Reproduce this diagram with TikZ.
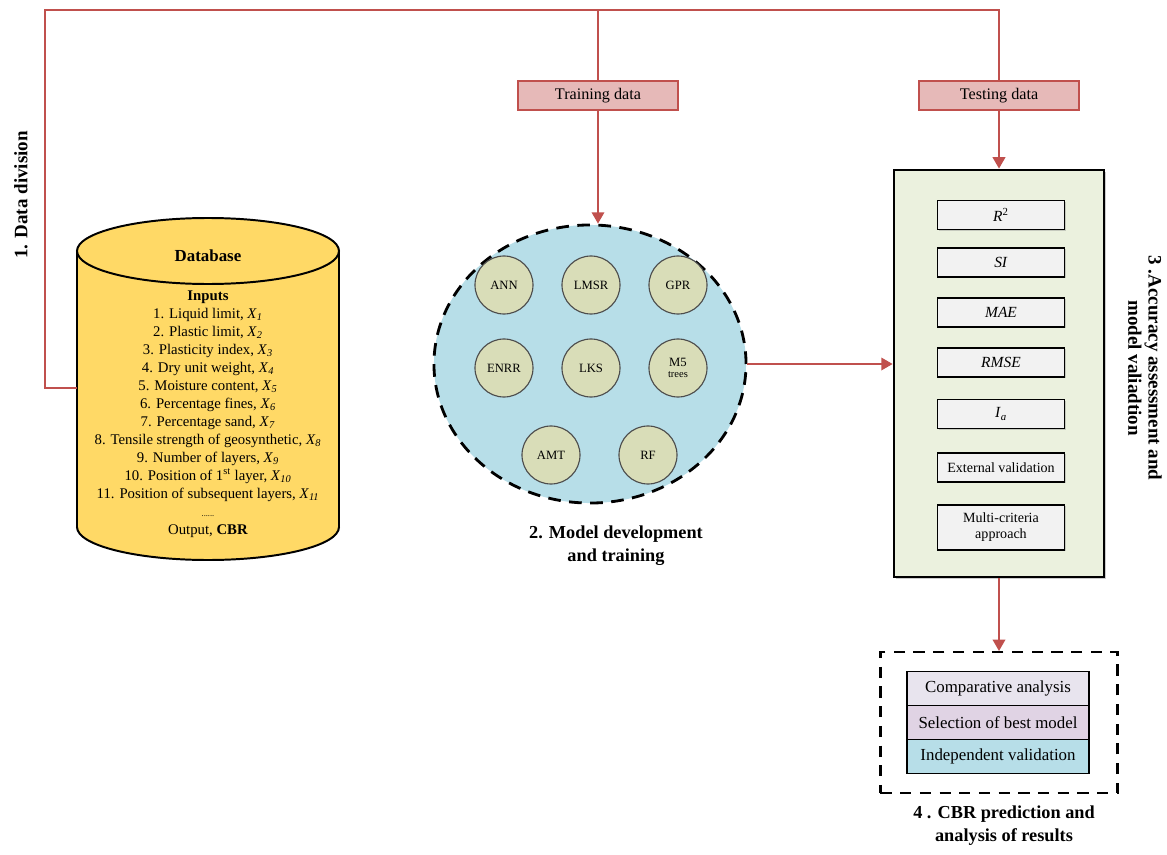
\documentclass[tikz,border=0pt]{standalone}
\usepackage{fontspec}
\setmainfont{Liberation Serif}
\usepackage{tikz}
\usetikzlibrary{shapes,arrows,shadows}

\definecolor{linered}{HTML}{C0504D}
\definecolor{datapink}{HTML}{E6B9B8}
\definecolor{dbyellow}{HTML}{FFD966}
\definecolor{modelblue}{HTML}{B7DEE8}
\definecolor{algogreen}{HTML}{D9DDB8}
\definecolor{metricgreen}{HTML}{EBF1DE}
\definecolor{metricgray}{HTML}{F2F2F2}
\definecolor{rowlilac}{HTML}{E8E4EE}
\definecolor{rowpurple}{HTML}{E0D3E4}

\newcommand{\xvar}[1]{\textit{X}\textsubscript{\textit{#1}}}

\tikzset{
  redline/.style={draw=linered, line width=1.2pt},
  redarrow/.style={redline, -triangle 60},
  databox/.style={draw=linered, line width=0.8pt, fill=datapink, minimum width=4cm,
    minimum height=0.725cm, inner sep=0pt, font=\fontsize{11.5}{13}\selectfont},
  algo/.style={circle, draw=black!70, line width=0.8pt, fill=algogreen, minimum size=1.45cm,
    inner sep=0pt, align=center, font=\fontsize{9}{10}\selectfont},
  metric/.style={draw, line width=1.2pt, fill=metricgray, minimum width=3.175cm,
    minimum height=0.725cm, inner sep=0pt, align=center,
    drop shadow={shadow xshift=0.8pt, shadow yshift=-0.8pt, opacity=0.35},
    font=\fontsize{11}{12}\selectfont},
  resrow/.style={draw, line width=1.2pt, minimum width=4.55cm, minimum height=0.85cm,
    inner sep=0pt, font=\fontsize{12}{14}\selectfont},
  steplabel/.style={font=\bfseries\fontsize{13}{16.5}\selectfont, align=center, inner sep=0pt},
}

\begin{document}
\begin{tikzpicture}[x=0.025cm, y=-0.025cm, thick]
\useasboundingbox (0,0) rectangle (1167,855);

% database cylinder
\fill[dbyellow] (208,527) ellipse (131 and 33);
\fill[dbyellow] (77,251) rectangle (339,527);
\fill[dbyellow] (208,251) ellipse (131 and 33);
\begin{scope}
\clip (60,527) rectangle (360,600);
\draw[line width=1.4pt] (208,527) ellipse (131 and 33);
\end{scope}
\draw[line width=1.4pt] (208,251) ellipse (131 and 33);
\draw[line width=1.4pt] (77,251) -- (77,527);
\draw[line width=1.4pt] (339,251) -- (339,527);

\node[font=\bfseries\fontsize{12}{14}\selectfont, inner sep=0pt] (dbtitle) at (208,256) {Database};
\node[anchor=north, align=center, inner sep=0pt, font=\fontsize{10.5}{12.8}\selectfont] (dblist) at (208,290) {%
  {\bfseries Inputs}\\
  1. Liquid limit, \xvar{1}\\
  2. Plastic limit, \xvar{2}\\
  3. Plasticity index, \xvar{3}\\
  4. Dry unit weight, \xvar{4}\\
  5. Moisture content, \xvar{5}\\
  6. Percentage fines, \xvar{6}\\
  7. Percentage sand, \xvar{7}\\
  8. Tensile strength of geosynthetic, \xvar{8}\\
  9. Number of layers, \xvar{9}\\
  10. Position of 1\textsuperscript{st} layer, \xvar{10}\\
  11. Position of subsequent layers, \xvar{11}\\
  {\fontsize{6}{6}\selectfont ......}\\
  Output, \textbf{CBR}};

\coordinate (dbin) at (77,388);
\coordinate (corner) at (45,10);
\coordinate (tend) at (999,10);

% data split
\node[databox] (train) at (598,95.5) {Training data};
\node[databox] (test) at (999,95.5) {Testing data};

% models
\node[ellipse, draw, line width=2pt, dash pattern=on 9pt off 6pt, fill=modelblue,
  minimum width=7.8cm, minimum height=6.95cm, inner sep=0pt] (model) at (590,364) {};
\node[algo] (ann) at (504,285) {ANN};
\node[algo] (lmsr) at (591,285) {LMSR};
\node[algo] (gpr) at (678,285) {GPR};
\node[algo] (enrr) at (504,368) {ENRR};
\node[algo] (lks) at (591,368) {LKS};
\node[algo] (mfive) at (678,368) {M5\\[-2pt]{\fontsize{7.5}{8}\selectfont trees}};
\node[algo] (amt) at (551,455) {AMT};
\node[algo] (rf) at (648,455) {RF};

% metrics
\node[draw, line width=2pt, fill=metricgreen, minimum width=5.25cm, minimum height=10.175cm,
  drop shadow={shadow xshift=1.2pt, shadow yshift=-1.2pt, opacity=0.4}] (metrics) at (999,373.5) {};
\node[metric] (rsq) at (1001,215) {\textit{R}\textsuperscript{2}};
\node[metric] (si) at (1001,262.5) {\textit{SI}};
\node[metric] (mae) at (1001,312.5) {\textit{MAE}};
\node[metric] (rmse) at (1001,362.5) {\textit{RMSE}};
\node[metric] (ia) at (1001,414) {\textit{I}\textsubscript{\textit{a}}};
\node[metric, font=\fontsize{10}{11.5}\selectfont] (extval) at (1001,467.5) {External validation};
\node[metric, minimum height=1.125cm, font=\fontsize{10}{11.5}\selectfont] (multi) at (1001,527.5) {Multi-criteria\\approach};

% results
\node[draw, line width=1.5pt, dash pattern=on 8pt off 6pt, minimum width=5.925cm,
  minimum height=3.525cm] (results) at (999,722.5) {};
\node[resrow, fill=rowlilac] (compare) at (998,688.5) {Comparative analysis};
\node[resrow, fill=rowpurple] (select) at (998,722.5) {Selection of best model};
\node[resrow, fill=modelblue] (indep) at (998,756.5) {Independent validation};

% step labels
\node[steplabel, rotate=90, font=\bfseries\fontsize{13.5}{16}\selectfont] (stepone) at (21,195) {1. Data division};
\node[steplabel] (steptwo) at (616,546) {2. Model development\\and training};
\node[steplabel, rotate=-90, font=\bfseries\fontsize{13.5}{14.5}\selectfont] (stepthree) at (1145,368)
  {3 .Accuracy assessment and\\model valiadtion};
\node[steplabel] (stepfour) at (1004,826) {4 . CBR prediction and\\analysis of results};

% connectors
\draw[redline] (dbin) -| (corner) -- (tend) -- (test.north);
\draw[redline] (train.north) -- (train.north |- corner);
\draw[redarrow] (train.south) -- (train.south |- model.north);
\draw[redarrow] (test.south) -- (metrics.north);
\draw[redarrow] (model.east) -- (model.east -| metrics.west);
\draw[redarrow] (metrics.south) -- (results.north);
\end{tikzpicture}
\end{document}
